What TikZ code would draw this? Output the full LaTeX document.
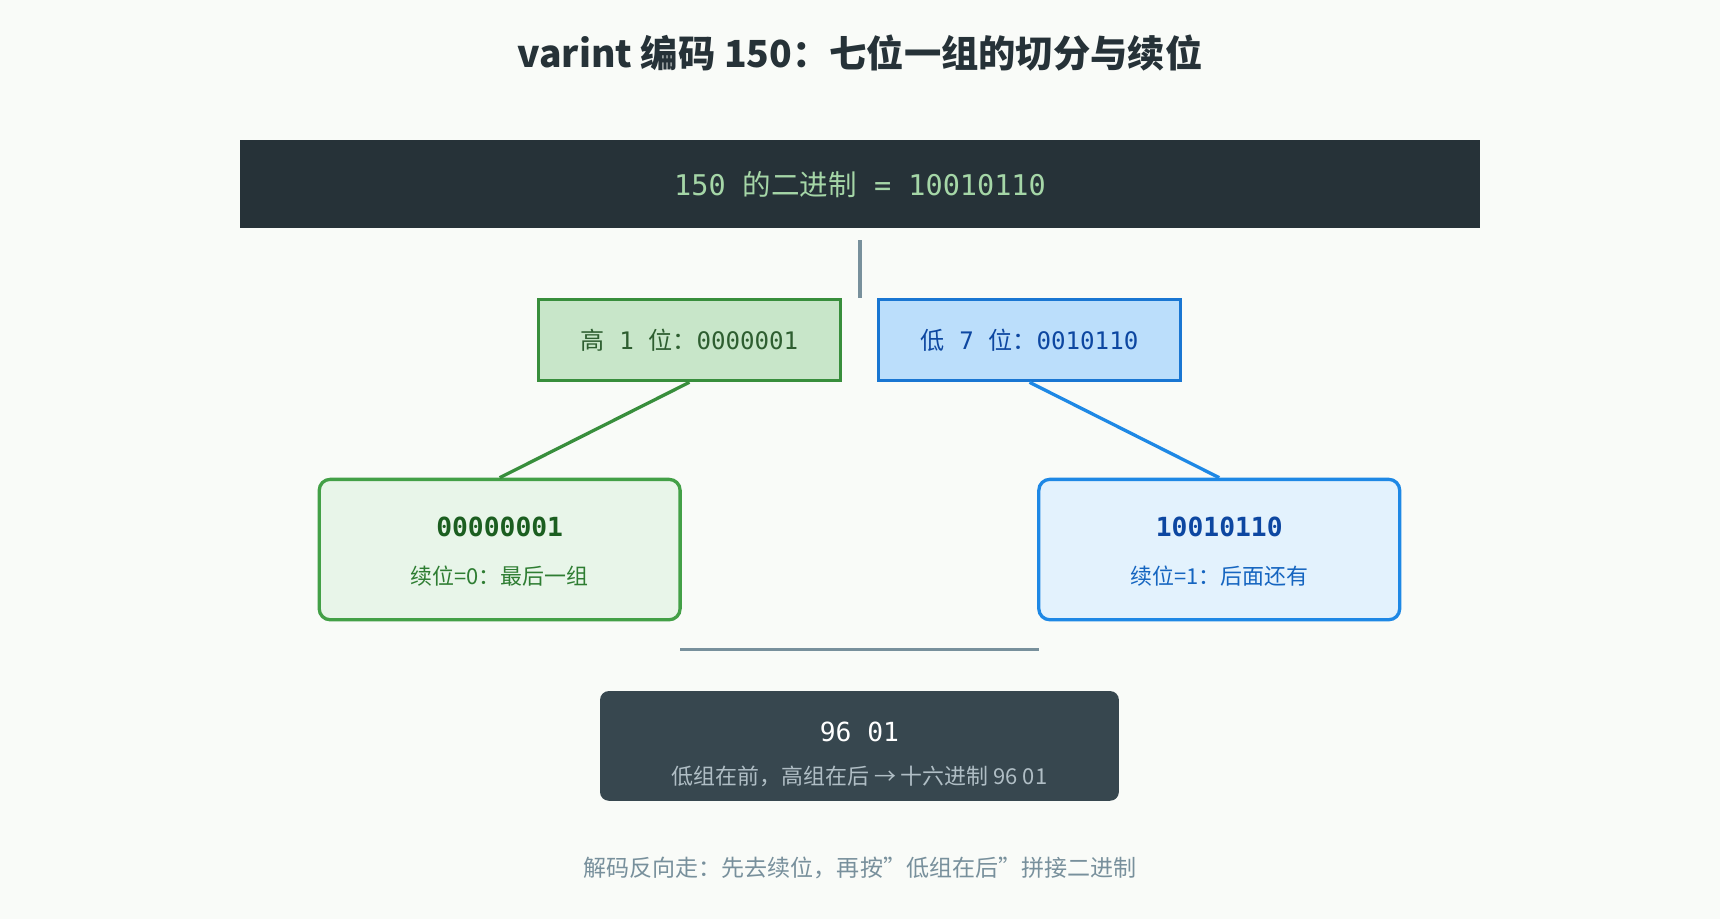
\documentclass[tikz,border=0pt]{standalone}
\usepackage{fontspec}
\setmainfont{Noto Sans CJK SC}
\setmonofont{DejaVu Sans Mono}
\newfontfamily\cjk{Noto Sans CJK SC}
\definecolor{bg}{HTML}{F9FBF8}
\definecolor{dark}{HTML}{263238}
\definecolor{slate}{HTML}{37474F}
\definecolor{gr}{HTML}{78909C}
\definecolor{bintext}{HTML}{A5D6A7}
\definecolor{gfill}{HTML}{C8E6C9}
\definecolor{gdraw}{HTML}{388E3C}
\definecolor{gtext}{HTML}{2E5E30}
\definecolor{bfill}{HTML}{BBDEFB}
\definecolor{bdraw}{HTML}{1976D2}
\definecolor{btext}{HTML}{0D47A1}
\definecolor{glfill}{HTML}{E8F5E9}
\definecolor{gldraw}{HTML}{43A047}
\definecolor{gdk}{HTML}{1B5E20}
\definecolor{gmid}{HTML}{2E7D32}
\definecolor{blfill}{HTML}{E3F2FD}
\definecolor{bldraw}{HTML}{1E88E5}
\definecolor{bmid}{HTML}{1565C0}
\definecolor{lgray}{HTML}{B0BEC5}
\begin{document}
\begin{tikzpicture}[x=0.5pt,y=-0.5pt,
  sq/.style={draw,line width=1.5pt,minimum width=137.5pt,minimum height=37pt,inner sep=0pt},
  rb/.style={draw,line width=1.5pt,rounded corners=5pt,minimum width=164.5pt,minimum height=64pt,inner sep=0pt},
  conn/.style={line width=1.5pt}]
\fill[bg] (0,0) rectangle (1568,838);
\useasboundingbox (0,0) rectangle (1568,838);
\node[font=\fontsize{17}{20}\selectfont\bfseries,text=dark] (title) at (784,48) {varint 编码 150：七位一组的切分与续位};
\node[fill=dark,minimum width=565pt,minimum height=40pt,inner sep=0pt,text=bintext,font=\ttfamily\fontsize{13}{15}\selectfont] (bin) at (784,168) {150 {\cjk 的二进制} = 10010110};
\node[sq,fill=gfill,draw=gdraw,text=gtext,font=\ttfamily\fontsize{11}{13}\selectfont] (hi) at (628.5,310) {{\cjk 高} 1 {\cjk 位：}0000001};
\node[sq,fill=bfill,draw=bdraw,text=btext,font=\ttfamily\fontsize{11}{13}\selectfont] (lo) at (938.5,310) {{\cjk 低} 7 {\cjk 位：}0010110};
\coordinate (vtop) at (784,219);
\coordinate (vbot) at (784,272);
\draw[conn,gr] (vtop) -- (vbot);
\node[rb,fill=glfill,draw=gldraw] (g) at (455.5,501) {};
\node[font=\ttfamily\bfseries\fontsize{12}{14}\selectfont,text=gdk] (gt) at (455.5,480) {00000001};
\node[font=\fontsize{10}{12}\selectfont,text=gmid] (gs) at (455.5,525) {续位=0：最后一组};
\node[rb,fill=blfill,draw=bldraw] (b) at (1111.5,501) {};
\node[font=\ttfamily\bfseries\fontsize{12}{14}\selectfont,text=btext] (bt) at (1111.5,480) {10010110};
\node[font=\fontsize{10}{12}\selectfont,text=bmid] (bs) at (1111.5,525) {续位=1：后面还有};
\draw[conn,gdraw] (hi.south) -- (g.north);
\draw[conn,bldraw] (lo.south) -- (b.north);
\coordinate (hl) at (620,592);
\coordinate (hr) at (947,592);
\draw[conn,gr] (hl) -- (hr);
\node[fill=slate,rounded corners=4pt,minimum width=236.5pt,minimum height=50pt,inner sep=0pt] (res) at (783.5,680) {};
\node[font=\ttfamily\fontsize{12}{14}\selectfont,text=white] (rt) at (783.5,667) {96 01};
\node[font=\fontsize{10}{12}\selectfont,text=lgray] (rs) at (783.5,708) {低组在前，高组在后 → 十六进制 96 01};
\node[font=\fontsize{10.5}{12}\selectfont,text=gr] (foot) at (784,791) {解码反向走：先去续位，再按"低组在后"拼接二进制};
\end{tikzpicture}
\end{document}
